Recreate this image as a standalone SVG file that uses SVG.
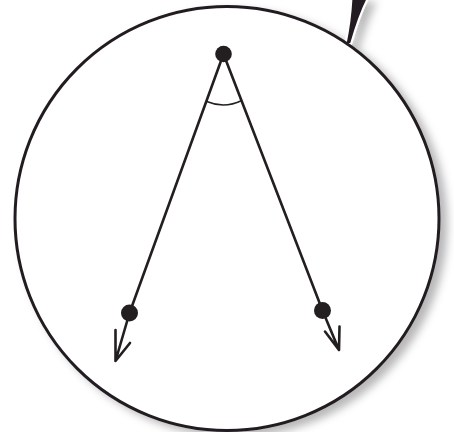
<svg xmlns="http://www.w3.org/2000/svg" width="454" height="432" viewBox="0 0 454 432">
  <defs>
    <filter id="shadow" x="-10%" y="-10%" width="130%" height="130%">
      <feGaussianBlur in="SourceAlpha" stdDeviation="4"/>
      <feOffset dx="7" dy="5" result="b"/>
      <feFlood flood-color="#000" flood-opacity="0.28"/>
      <feComposite in2="b" operator="in"/>
      <feMerge>
        <feMergeNode/>
        <feMergeNode in="SourceGraphic"/>
      </feMerge>
    </filter>
  </defs>
  <style>
    .ln { stroke: #231f20; stroke-width: 2.6; fill: none; stroke-linecap: round; stroke-linejoin: round; }
    .arc { stroke: #231f20; stroke-width: 1.5; fill: none; }
    .dot { fill: #231f20; }
  </style>
  <rect width="454" height="432" fill="#fff"/>
  <g id="lens" filter="url(#shadow)">
    <path d="M351.5,-2 C350.5,16 348.5,30 345.5,44 L351,44 C355,30 360,14 368,-2 Z" fill="#231f20" stroke="#fff" stroke-width="2"/>
    <circle cx="227" cy="218.5" r="212" fill="#fff" stroke="#231f20" stroke-width="3"/>
  </g>
  <g id="connectors">
    <line class="ln" x1="223.5" y1="54" x2="129.5" y2="313"/>
    <line class="ln" x1="223.5" y1="54" x2="322.5" y2="310.5"/>
    <path class="ln" d="M129.5,313 L115.5,361 M115.5,330 L115.5,361 L130,343"/>
    <path class="ln" d="M322.5,310.5 L339,350 M339.5,326.5 L339,350 L325,331.5"/>
    <path class="arc" d="M206.7,101.5 Q224.5,109 241.7,100.5"/>
  </g>
  <g id="apex"><circle class="dot" cx="223.5" cy="54" r="8.3"/></g>
  <g id="left-end"><circle class="dot" cx="129.5" cy="313" r="8.5"/></g>
  <g id="right-end"><circle class="dot" cx="322.5" cy="310.5" r="8.5"/></g>
</svg>
